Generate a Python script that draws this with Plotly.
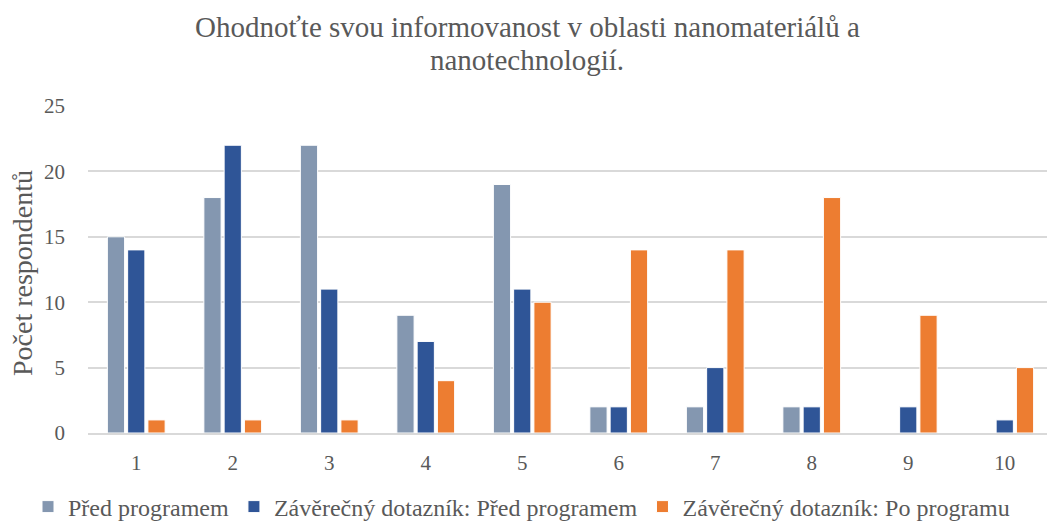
import plotly.graph_objects as go

categories = [1, 2, 3, 4, 5, 6, 7, 8, 9, 10]
pred_programem = [15, 18, 22, 9, 19, 2, 2, 2, None, None]
zav_pred = [14, 22, 11, 7, 11, 2, 5, 2, 2, 1]
zav_po = [1, 1, 1, 4, 10, 14, 14, 18, 9, 5]

series_names = ["Před programem", "Závěrečný dotazník: Před programem", "Závěrečný dotazník: Po programu"]
colors = ["#8497B0", "#2F5597", "#ED7D31"]
title_lines = ["Ohodnoťte svou informovanost v oblasti nanomateriálů a", "nanotechnologií."]
y_title = "Počet respondentů"

FONT = "Liberation Serif"
TXT = "#595959"

fig = go.Figure()
for name, vals, col in zip(series_names, [pred_programem, zav_pred, zav_po], colors):
    fig.add_trace(go.Bar(
        x=categories, y=vals, name=name,
        marker=dict(color=col, line=dict(color="white", width=1)),
    ))

annotations = [
    dict(text=title_lines[0], xref="paper", yref="paper", x=(527 - 88) / 959, y=(433 - 27) / 327,
         xanchor="center", yanchor="middle", showarrow=False,
         font=dict(family=FONT, size=29, color=TXT)),
    dict(text=title_lines[1], xref="paper", yref="paper", x=(527 - 88) / 959, y=(433 - 60) / 327,
         xanchor="center", yanchor="middle", showarrow=False,
         font=dict(family=FONT, size=29, color=TXT)),
    dict(text=y_title, textangle=-90, xref="paper", yref="paper",
         x=(22 - 88) / 959, y=(433 - 273) / 327, xanchor="center", yanchor="middle",
         showarrow=False, font=dict(family=FONT, size=28, color=TXT)),
]

fig.update_layout(
    width=1047, height=522,
    margin=dict(l=88, r=0, t=106, b=89, autoexpand=False),
    paper_bgcolor="white", plot_bgcolor="white",
    font=dict(family=FONT, color=TXT, size=21),
    barmode="group", bargap=0.37, bargroupgap=0.15,
    showlegend=True,
    legend=dict(orientation="h", x=(28 - 88) / 959, xref="paper", xanchor="left",
                y=(433 - 507) / 327, yref="paper", yanchor="middle",
                font=dict(family=FONT, size=24, color=TXT),
                itemwidth=30, tracegroupgap=0),
    annotations=annotations,
)
fig.update_xaxes(
    range=[0.5, 0.5 + 959 / 96.5], tickvals=categories, ticktext=[str(c) for c in categories],
    showgrid=False, showline=True, linecolor="#D9D9D9", linewidth=1.5,
    ticks="", ticklabelstandoff=10, zeroline=False,
    tickfont=dict(family=FONT, size=21, color=TXT),
)
fig.update_yaxes(
    range=[0, 25], dtick=5, showgrid=True, gridcolor="#D9D9D9", gridwidth=1.5,
    zeroline=False, showline=False, ticks="", ticklabelstandoff=22,
    tickfont=dict(family=FONT, size=21, color=TXT),
)

fig.write_html("out.html", config={"displayModeBar": False},
               post_script="document.body.style.margin='0';")
